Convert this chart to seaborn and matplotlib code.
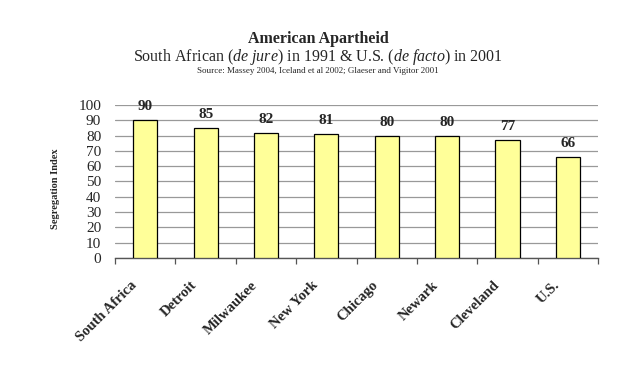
import matplotlib
matplotlib.use("Agg")
import matplotlib.pyplot as plt
import matplotlib.transforms as mtransforms
import seaborn as sns
import pandas as pd

places = ['South Africa', 'Detroit', 'Milwaukee', 'New York', 'Chicago',
          'Newark', 'Cleveland', 'U.S.']
segregation = [90, 85, 82, 81, 80, 80, 77, 66]

df = pd.DataFrame({'place': places, 'index': segregation})

sns.set_style("white")
plt.rcParams['font.family'] = ['Liberation Serif', 'DejaVu Serif']
plt.rcParams['mathtext.fontset'] = 'custom'
plt.rcParams['mathtext.rm'] = 'Liberation Serif'
plt.rcParams['mathtext.it'] = 'Liberation Serif:italic'

fig = plt.figure(figsize=(6.43, 3.71), dpi=100)
ax = fig.add_axes([0.179, 0.305, 0.751, 0.412])

sns.barplot(data=df, x='place', y='index', color='#FFFF99', saturation=1,
            edgecolor='black', linewidth=0.9, width=0.4, ax=ax, zorder=3)

# 数值标注
for i, v in enumerate(segregation):
    ax.text(i, v + 4.5, str(v), ha='center', va='bottom',
            fontsize=11, fontweight='bold')

ax.set_ylim(0, 100)
ax.set_xlim(-0.5, len(places) - 0.5)
ax.set_yticks(range(0, 101, 10))
ax.yaxis.grid(True, color='#999999', linewidth=0.9, zorder=0)
ax.tick_params(axis='y', length=0, labelsize=11, pad=10)

# 类别边界刻度
ax.set_xticks([i - 0.5 for i in range(len(places) + 1)], minor=True)
ax.set_xticks(range(len(places)))
ax.set_xticklabels(places, rotation=45, ha='right', rotation_mode='anchor',
                   fontsize=10.5, fontweight='bold')
ax.tick_params(axis='x', which='major', length=0, pad=8)
ax.tick_params(axis='x', which='minor', length=4, width=0.9, direction='out',
               bottom=True, color='#555555')
shift = mtransforms.ScaledTranslation(-11 / 72, -7 / 72, fig.dpi_scale_trans)
for lab in ax.get_xticklabels():
    lab.set_transform(lab.get_transform() + shift)

ax.set_xlabel('')
ax.set_ylabel('Segregation Index', fontsize=7.5, fontweight='bold', labelpad=11)
ax.yaxis.set_label_coords(-0.115, 0.45)

for s in ['top', 'right', 'left']:
    ax.spines[s].set_visible(False)
ax.spines['bottom'].set_color('#555555')
ax.spines['bottom'].set_linewidth(1.0)

fig.text(0.495, 0.895, 'American Apartheid', ha='center', va='center',
         fontsize=11.5, fontweight='bold')
fig.text(0.495, 0.846, 'South African ($\\it{de\\ jure}$) in 1991 & U.S. ($\\it{de\\ facto}$) in 2001',
         ha='center', va='center', fontsize=11.5)
fig.text(0.495, 0.808, 'Source: Massey 2004, Iceland et al 2002; Glaeser and Vigitor 2001',
         ha='center', va='center', fontsize=6.5)

plt.savefig('out.png', dpi=100)
